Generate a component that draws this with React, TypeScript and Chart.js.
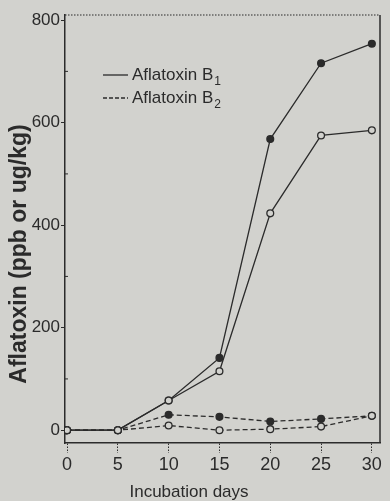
import React, { useEffect, useRef } from "react";
import { Chart, registerables } from "chart.js";

Chart.register(...registerables);

const days = [0, 5, 10, 15, 20, 25, 30];
const b1Filled = [0, 0, 58, 141, 568, 716, 754];
const b1Open = [0, 0, 58, 115, 423, 575, 585];
const b2Filled = [0, 0, 30, 26, 17, 22, 28];
const b2Open = [0, 0, 9, 0, 2, 7, 28];
const yTicks = [0, 200, 400, 600, 800];
const yMinorTicks = [100, 300, 500, 700];
const legendLabels = ["Aflatoxin B", "Aflatoxin B"];
const legendSubs = ["1", "2"];
const xTitle = "Incubation days";
const yTitle = "Aflatoxin (ppb or ug/kg)";

const BG = "rgb(210,210,206)";
const INK = "#2b2b2b";
const FONT = "'Liberation Sans', Arial, sans-serif";

export default function App() {
  const ref = useRef<HTMLCanvasElement | null>(null);

  useEffect(() => {
    document.body.style.margin = "0";
    document.body.style.background = BG;
    const canvas = ref.current!;
    const mk = (data: number[], filled: boolean, dashed: boolean) => ({
      data: days.map((d, i) => ({ x: d, y: data[i] })),
      order: filled ? 1 : 0,
      borderColor: INK,
      borderWidth: 1.3,
      borderDash: dashed ? [5, 3] : [],
      pointRadius: 3.4,
      pointBorderWidth: 1.3,
      pointBorderColor: INK,
      pointBackgroundColor: filled ? INK : BG,
      tension: 0,
      fill: false,
    });

    const overlay = {
      id: "overlay",
      afterDraw(chart: any) {
        const { ctx, chartArea: a, scales } = chart;
        ctx.save();
        ctx.strokeStyle = INK;
        ctx.lineWidth = 1.2;
        ctx.setLineDash([1.5, 1.5]);
        ctx.beginPath();
        ctx.moveTo(a.left, a.top);
        ctx.lineTo(a.right, a.top);
        ctx.stroke();
        ctx.setLineDash([]);
        ctx.lineWidth = 1.5;
        ctx.beginPath();
        ctx.moveTo(a.right, a.top);
        ctx.lineTo(a.right, a.bottom);
        ctx.stroke();
        ctx.lineWidth = 1;
        for (const v of yMinorTicks) {
          const y = scales.y.getPixelForValue(v);
          ctx.beginPath();
          ctx.moveTo(a.left, y);
          ctx.lineTo(a.left + 3, y);
          ctx.stroke();
        }
        ctx.fillStyle = INK;
        ctx.textBaseline = "middle";
        const lx = 103;
        const ly = [75, 98];
        for (let i = 0; i < 2; i++) {
          ctx.lineWidth = 1.3;
          ctx.setLineDash(i === 0 ? [] : [4, 2]);
          ctx.beginPath();
          ctx.moveTo(lx, ly[i]);
          ctx.lineTo(lx + 25, ly[i]);
          ctx.stroke();
          ctx.setLineDash([]);
          ctx.font = `17px ${FONT}`;
          ctx.textAlign = "left";
          ctx.fillText(legendLabels[i], lx + 29, ly[i]);
          const w = ctx.measureText(legendLabels[i]).width;
          ctx.font = `12px ${FONT}`;
          ctx.fillText(legendSubs[i], lx + 29 + w + 1, ly[i] + 7);
        }
        ctx.font = `17px ${FONT}`;
        ctx.textAlign = "center";
        ctx.fillText(xTitle, 189, 492);
        ctx.save();
        ctx.translate(20, 254);
        ctx.rotate(-Math.PI / 2);
        ctx.font = `bold 23px ${FONT}`;
        ctx.fillText(yTitle, 0, 0);
        ctx.restore();
        ctx.restore();
      },
    };

    const chart = new Chart(canvas, {
      type: "line",
      data: {
        datasets: [
          mk(b1Filled, true, false),
          mk(b1Open, false, false),
          mk(b2Filled, true, true),
          mk(b2Open, false, true),
        ],
      },
      options: {
        animation: false,
        responsive: false,
        maintainAspectRatio: false,
        layout: { padding: { top: 15, right: 10, left: 0, bottom: 0 } },
        plugins: { legend: { display: false }, tooltip: { enabled: false } },
        scales: {
          x: {
            type: "linear",
            min: -0.2,
            max: 30.8,
            afterBuildTicks: (s: any) => {
              s.ticks = days.map((v) => ({ value: v }));
            },
            afterFit: (s: any) => {
              s.height = 58;
            },
            ticks: {
              color: INK,
              font: { size: 18, family: FONT },
              padding: 1,
              maxRotation: 0,
            },
            grid: {
              drawOnChartArea: false,
              drawTicks: true,
              tickLength: 10,
              color: INK,
              tickBorderDash: [1.5, 1.5],
            } as any,
            border: { display: true, color: INK, width: 1.5 },
          },
          y: {
            min: -25,
            max: 810,
            afterBuildTicks: (s: any) => {
              s.ticks = yTicks.map((v) => ({ value: v }));
            },
            afterFit: (s: any) => {
              s.width = 65;
            },
            ticks: {
              color: INK,
              font: { size: 17, family: FONT },
              padding: 1,
            },
            grid: {
              drawOnChartArea: false,
              drawTicks: true,
              tickLength: 4,
              color: INK,
            },
            border: { display: true, color: INK, width: 1.5 },
          },
        },
      },
      plugins: [overlay],
    });
    return () => chart.destroy();
  }, []);

  return (
    <div style={{ position: "fixed", left: 0, top: 0, width: 390, height: 501, background: BG }}>
      <canvas ref={ref} width={390} height={501} style={{ display: "block" }} />
    </div>
  );
}
